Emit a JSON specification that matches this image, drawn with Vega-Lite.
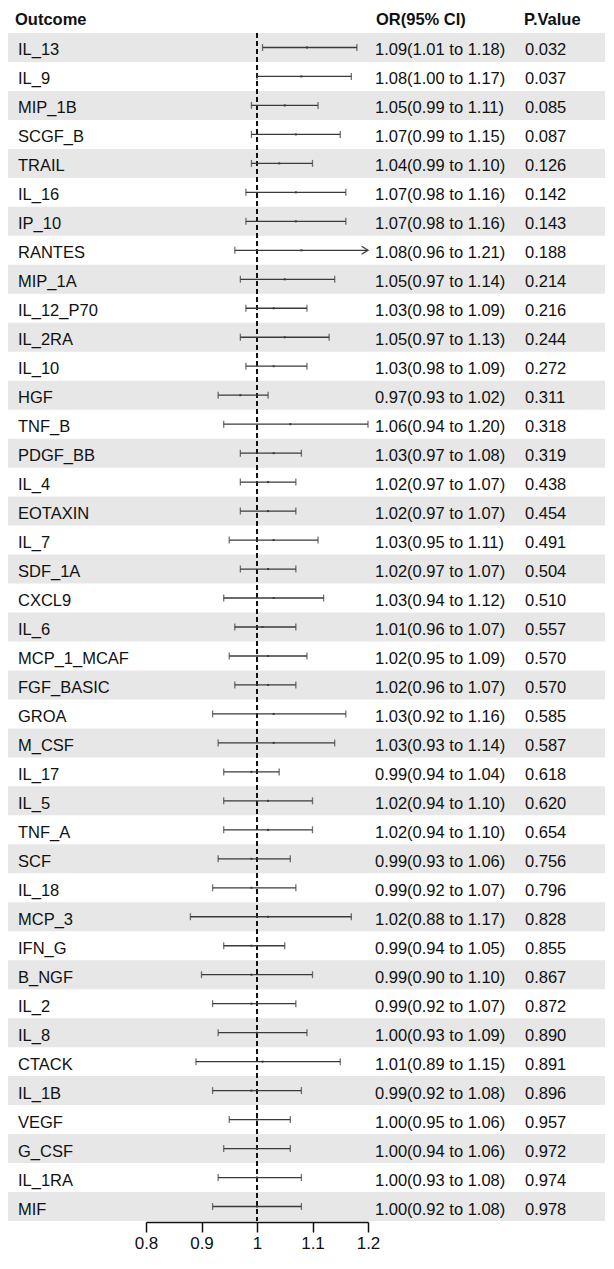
{
  "$schema": "https://vega.github.io/schema/vega-lite/v6.json",
  "padding": {"left": 8, "top": 11, "right": 0, "bottom": 0},
  "autosize": {"type": "pad"},
  "background": "white",
  "config": {
    "view": {"stroke": null},
    "font": "Liberation Sans",
    "text": {"font": "Liberation Sans", "fontSize": 16.5, "color": "#111111", "align": "left", "baseline": "middle", "dy": 3}
  },
  "data": {"values": [
    {"Outcome": "IL_13", "OR": 1.09, "lower": 1.01, "upper": 1.18, "ci": "1.09(1.01 to 1.18)", "p": "0.032"},
    {"Outcome": "IL_9", "OR": 1.08, "lower": 1.00, "upper": 1.17, "ci": "1.08(1.00 to 1.17)", "p": "0.037"},
    {"Outcome": "MIP_1B", "OR": 1.05, "lower": 0.99, "upper": 1.11, "ci": "1.05(0.99 to 1.11)", "p": "0.085"},
    {"Outcome": "SCGF_B", "OR": 1.07, "lower": 0.99, "upper": 1.15, "ci": "1.07(0.99 to 1.15)", "p": "0.087"},
    {"Outcome": "TRAIL", "OR": 1.04, "lower": 0.99, "upper": 1.10, "ci": "1.04(0.99 to 1.10)", "p": "0.126"},
    {"Outcome": "IL_16", "OR": 1.07, "lower": 0.98, "upper": 1.16, "ci": "1.07(0.98 to 1.16)", "p": "0.142"},
    {"Outcome": "IP_10", "OR": 1.07, "lower": 0.98, "upper": 1.16, "ci": "1.07(0.98 to 1.16)", "p": "0.143"},
    {"Outcome": "RANTES", "OR": 1.08, "lower": 0.96, "upper": 1.21, "ci": "1.08(0.96 to 1.21)", "p": "0.188"},
    {"Outcome": "MIP_1A", "OR": 1.05, "lower": 0.97, "upper": 1.14, "ci": "1.05(0.97 to 1.14)", "p": "0.214"},
    {"Outcome": "IL_12_P70", "OR": 1.03, "lower": 0.98, "upper": 1.09, "ci": "1.03(0.98 to 1.09)", "p": "0.216"},
    {"Outcome": "IL_2RA", "OR": 1.05, "lower": 0.97, "upper": 1.13, "ci": "1.05(0.97 to 1.13)", "p": "0.244"},
    {"Outcome": "IL_10", "OR": 1.03, "lower": 0.98, "upper": 1.09, "ci": "1.03(0.98 to 1.09)", "p": "0.272"},
    {"Outcome": "HGF", "OR": 0.97, "lower": 0.93, "upper": 1.02, "ci": "0.97(0.93 to 1.02)", "p": "0.311"},
    {"Outcome": "TNF_B", "OR": 1.06, "lower": 0.94, "upper": 1.20, "ci": "1.06(0.94 to 1.20)", "p": "0.318"},
    {"Outcome": "PDGF_BB", "OR": 1.03, "lower": 0.97, "upper": 1.08, "ci": "1.03(0.97 to 1.08)", "p": "0.319"},
    {"Outcome": "IL_4", "OR": 1.02, "lower": 0.97, "upper": 1.07, "ci": "1.02(0.97 to 1.07)", "p": "0.438"},
    {"Outcome": "EOTAXIN", "OR": 1.02, "lower": 0.97, "upper": 1.07, "ci": "1.02(0.97 to 1.07)", "p": "0.454"},
    {"Outcome": "IL_7", "OR": 1.03, "lower": 0.95, "upper": 1.11, "ci": "1.03(0.95 to 1.11)", "p": "0.491"},
    {"Outcome": "SDF_1A", "OR": 1.02, "lower": 0.97, "upper": 1.07, "ci": "1.02(0.97 to 1.07)", "p": "0.504"},
    {"Outcome": "CXCL9", "OR": 1.03, "lower": 0.94, "upper": 1.12, "ci": "1.03(0.94 to 1.12)", "p": "0.510"},
    {"Outcome": "IL_6", "OR": 1.01, "lower": 0.96, "upper": 1.07, "ci": "1.01(0.96 to 1.07)", "p": "0.557"},
    {"Outcome": "MCP_1_MCAF", "OR": 1.02, "lower": 0.95, "upper": 1.09, "ci": "1.02(0.95 to 1.09)", "p": "0.570"},
    {"Outcome": "FGF_BASIC", "OR": 1.02, "lower": 0.96, "upper": 1.07, "ci": "1.02(0.96 to 1.07)", "p": "0.570"},
    {"Outcome": "GROA", "OR": 1.03, "lower": 0.92, "upper": 1.16, "ci": "1.03(0.92 to 1.16)", "p": "0.585"},
    {"Outcome": "M_CSF", "OR": 1.03, "lower": 0.93, "upper": 1.14, "ci": "1.03(0.93 to 1.14)", "p": "0.587"},
    {"Outcome": "IL_17", "OR": 0.99, "lower": 0.94, "upper": 1.04, "ci": "0.99(0.94 to 1.04)", "p": "0.618"},
    {"Outcome": "IL_5", "OR": 1.02, "lower": 0.94, "upper": 1.10, "ci": "1.02(0.94 to 1.10)", "p": "0.620"},
    {"Outcome": "TNF_A", "OR": 1.02, "lower": 0.94, "upper": 1.10, "ci": "1.02(0.94 to 1.10)", "p": "0.654"},
    {"Outcome": "SCF", "OR": 0.99, "lower": 0.93, "upper": 1.06, "ci": "0.99(0.93 to 1.06)", "p": "0.756"},
    {"Outcome": "IL_18", "OR": 0.99, "lower": 0.92, "upper": 1.07, "ci": "0.99(0.92 to 1.07)", "p": "0.796"},
    {"Outcome": "MCP_3", "OR": 1.02, "lower": 0.88, "upper": 1.17, "ci": "1.02(0.88 to 1.17)", "p": "0.828"},
    {"Outcome": "IFN_G", "OR": 0.99, "lower": 0.94, "upper": 1.05, "ci": "0.99(0.94 to 1.05)", "p": "0.855"},
    {"Outcome": "B_NGF", "OR": 0.99, "lower": 0.90, "upper": 1.10, "ci": "0.99(0.90 to 1.10)", "p": "0.867"},
    {"Outcome": "IL_2", "OR": 0.99, "lower": 0.92, "upper": 1.07, "ci": "0.99(0.92 to 1.07)", "p": "0.872"},
    {"Outcome": "IL_8", "OR": 1.00, "lower": 0.93, "upper": 1.09, "ci": "1.00(0.93 to 1.09)", "p": "0.890"},
    {"Outcome": "CTACK", "OR": 1.01, "lower": 0.89, "upper": 1.15, "ci": "1.01(0.89 to 1.15)", "p": "0.891"},
    {"Outcome": "IL_1B", "OR": 0.99, "lower": 0.92, "upper": 1.08, "ci": "0.99(0.92 to 1.08)", "p": "0.896"},
    {"Outcome": "VEGF", "OR": 1.00, "lower": 0.95, "upper": 1.06, "ci": "1.00(0.95 to 1.06)", "p": "0.957"},
    {"Outcome": "G_CSF", "OR": 1.00, "lower": 0.94, "upper": 1.06, "ci": "1.00(0.94 to 1.06)", "p": "0.972"},
    {"Outcome": "IL_1RA", "OR": 1.00, "lower": 0.93, "upper": 1.08, "ci": "1.00(0.93 to 1.08)", "p": "0.974"},
    {"Outcome": "MIF", "OR": 1.00, "lower": 0.92, "upper": 1.08, "ci": "1.00(0.92 to 1.08)", "p": "0.978"}
  ]},
  "transform": [{"window": [{"op": "row_number", "as": "idx"}]}],
  "bounds": "flush",
  "spacing": 0,
  "hconcat": [
    {
      "width": 138,
      "height": 1188,
      "title": {"text": "Outcome", "anchor": "start", "frame": "group", "fontSize": 16.5, "fontWeight": "bold", "font": "Liberation Sans", "baseline": "alphabetic", "offset": -8, "dx": 7, "color": "#111111"},
      "layer": [
        {
          "transform": [{"filter": "datum.idx % 2 == 1"}],
          "mark": {"type": "rect", "color": "#e7e7e7"},
          "encoding": {"y": {"field": "idx", "type": "ordinal", "axis": null, "scale": {"paddingInner": 0, "paddingOuter": 0}}}
        },
        {
          "mark": {"type": "text", "dx": 10},
          "encoding": {
            "y": {"field": "idx", "type": "ordinal", "axis": null},
            "x": {"datum": 0, "type": "quantitative", "scale": {"domain": [0, 1]}, "axis": null},
            "text": {"field": "Outcome"}
          }
        }
      ]
    },
    {
      "width": 222,
      "height": 1188,
      "layer": [
        {
          "transform": [{"filter": "datum.idx % 2 == 1"}],
          "mark": {"type": "rect", "color": "#e7e7e7"},
          "encoding": {"y": {"field": "idx", "type": "ordinal", "axis": null, "scale": {"paddingInner": 0, "paddingOuter": 0}}}
        },
        {
          "mark": {"type": "rule", "color": "#111111", "strokeWidth": 1.4, "strokeDash": [5, 3]},
          "encoding": {"x": {"datum": 1, "type": "quantitative"}}
        },
        {
          "mark": {"type": "rule", "color": "#3a3a3a", "strokeWidth": 1.3},
          "encoding": {
            "y": {"field": "idx", "type": "ordinal", "axis": null},
            "x": {"field": "lower", "type": "quantitative", "scale": {"domain": [0.8, 1.2], "clamp": true, "nice": false, "zero": false},
              "axis": {"orient": "bottom", "values": [0.8, 0.9, 1, 1.1, 1.2], "format": "~g", "title": null, "grid": false, "labelFlush": false, "labelFont": "Liberation Sans", "labelFontSize": 17, "labelColor": "#111111", "labelPadding": 3, "tickSize": 10, "tickWidth": 1.5, "tickColor": "#111111", "domainColor": "#111111", "domainWidth": 1.5, "offset": 1}},
            "x2": {"field": "upper"}
          }
        },
        {
          "mark": {"type": "tick", "color": "#3a3a3a", "size": 7, "thickness": 1.3, "orient": "vertical"},
          "encoding": {
            "y": {"field": "idx", "type": "ordinal", "axis": null},
            "x": {"field": "lower", "type": "quantitative"}
          }
        },
        {
          "transform": [{"filter": "datum.upper <= 1.2"}],
          "mark": {"type": "tick", "color": "#3a3a3a", "size": 7, "thickness": 1.3, "orient": "vertical"},
          "encoding": {
            "y": {"field": "idx", "type": "ordinal", "axis": null},
            "x": {"field": "upper", "type": "quantitative"}
          }
        },
        {
          "transform": [{"filter": "datum.upper > 1.2"}],
          "mark": {"type": "point", "shape": "M-1.6,-1L0,0L-1.6,1", "size": 64, "filled": false, "color": "#3a3a3a", "strokeWidth": 1.3, "opacity": 1},
          "encoding": {
            "y": {"field": "idx", "type": "ordinal", "axis": null},
            "x": {"field": "upper", "type": "quantitative"}
          }
        },
        {
          "mark": {"type": "point", "shape": "square", "size": 4, "filled": true, "color": "#3a3a3a", "opacity": 1},
          "encoding": {
            "y": {"field": "idx", "type": "ordinal", "axis": null},
            "x": {"field": "OR", "type": "quantitative"}
          }
        }
      ]
    },
    {
      "width": 151,
      "height": 1188,
      "title": {"text": "OR(95% CI)", "anchor": "start", "frame": "group", "fontSize": 16.5, "fontWeight": "bold", "font": "Liberation Sans", "baseline": "alphabetic", "offset": -8, "dx": 8, "color": "#111111"},
      "layer": [
        {
          "transform": [{"filter": "datum.idx % 2 == 1"}],
          "mark": {"type": "rect", "color": "#e7e7e7"},
          "encoding": {"y": {"field": "idx", "type": "ordinal", "axis": null, "scale": {"paddingInner": 0, "paddingOuter": 0}}}
        },
        {
          "mark": {"type": "text", "dx": 7},
          "encoding": {
            "y": {"field": "idx", "type": "ordinal", "axis": null},
            "x": {"datum": 0, "type": "quantitative", "scale": {"domain": [0, 1]}, "axis": null},
            "text": {"field": "ci"}
          }
        }
      ]
    },
    {
      "width": 86,
      "height": 1188,
      "title": {"text": "P.Value", "anchor": "start", "frame": "group", "fontSize": 16.5, "fontWeight": "bold", "font": "Liberation Sans", "baseline": "alphabetic", "offset": -8, "dx": 5, "color": "#111111"},
      "layer": [
        {
          "transform": [{"filter": "datum.idx % 2 == 1"}],
          "mark": {"type": "rect", "color": "#e7e7e7"},
          "encoding": {"y": {"field": "idx", "type": "ordinal", "axis": null, "scale": {"paddingInner": 0, "paddingOuter": 0}}}
        },
        {
          "mark": {"type": "text", "dx": 6},
          "encoding": {
            "y": {"field": "idx", "type": "ordinal", "axis": null},
            "x": {"datum": 0, "type": "quantitative", "scale": {"domain": [0, 1]}, "axis": null},
            "text": {"field": "p"}
          }
        }
      ]
    }
  ]
}
